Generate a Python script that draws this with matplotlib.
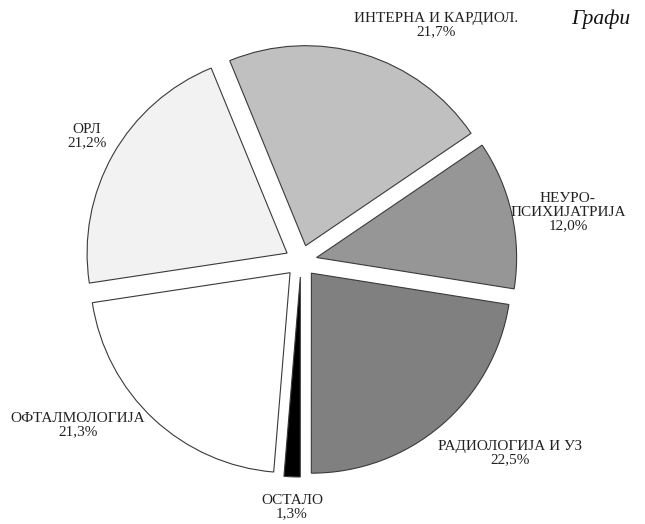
import numpy as np
import matplotlib.pyplot as plt

# Подаци (кружни дијаграм)
labels = ["ИНТЕРНА И КАРДИОЛ.", "НЕУРО-\nПСИХИЈАТРИЈА", "РАДИОЛОГИЈА И УЗ",
          "ОСТАЛО", "ОФТАЛМОЛОГИЈА", "ОРЛ"]
values = [21.7, 12.0, 22.5, 1.3, 21.3, 21.2]
value_text = ["21,7%", "12,0%", "22,5%", "1,3%", "21,3%", "21,2%"]

colors = ["#c0c0c0", "#969696", "#808080", "#000000", "#ffffff", "#f2f2f2"]
# положај натписа (угао у степенима, растојање од центра)
label_ang = [60.2, 10.4, -42.6, -92.1, 216.3, 149.8]
label_dist = [1.36, 1.357, 1.42, 1.23, 1.384, 1.24]

plt.rcParams['font.family'] = ['Liberation Serif', 'DejaVu Serif']

fig = plt.figure(figsize=(6.45, 5.24), dpi=100)
ax = fig.add_axes([0, 0, 1, 1])

ax.pie(values, colors=colors, startangle=112.3, counterclock=False,
       explode=[0.08] * len(values), radius=1.0,
       wedgeprops=dict(edgecolor="#3a3a3a", linewidth=0.8))

for lab, val, a, d in zip(labels, value_text, label_ang, label_dist):
    x = d * np.cos(np.radians(a))
    y = d * np.sin(np.radians(a))
    ax.text(x, y, lab + "\n" + val, ha="center", va="center",
            fontsize=11, color="#222222", linespacing=1.05)

ax.set_xlim(-1.505, 1.72)
ax.set_ylim(-1.315, 1.305)
ax.set_aspect("equal")
ax.axis("off")

# наслов (у оригиналу одсечен десном ивицом)
fig.text(571 / 645, 1 - 24 / 524, "Графи", fontsize=15.5, style="italic",
         ha="left", va="baseline", color="#111111")

fig.savefig("out.png", dpi=100)
